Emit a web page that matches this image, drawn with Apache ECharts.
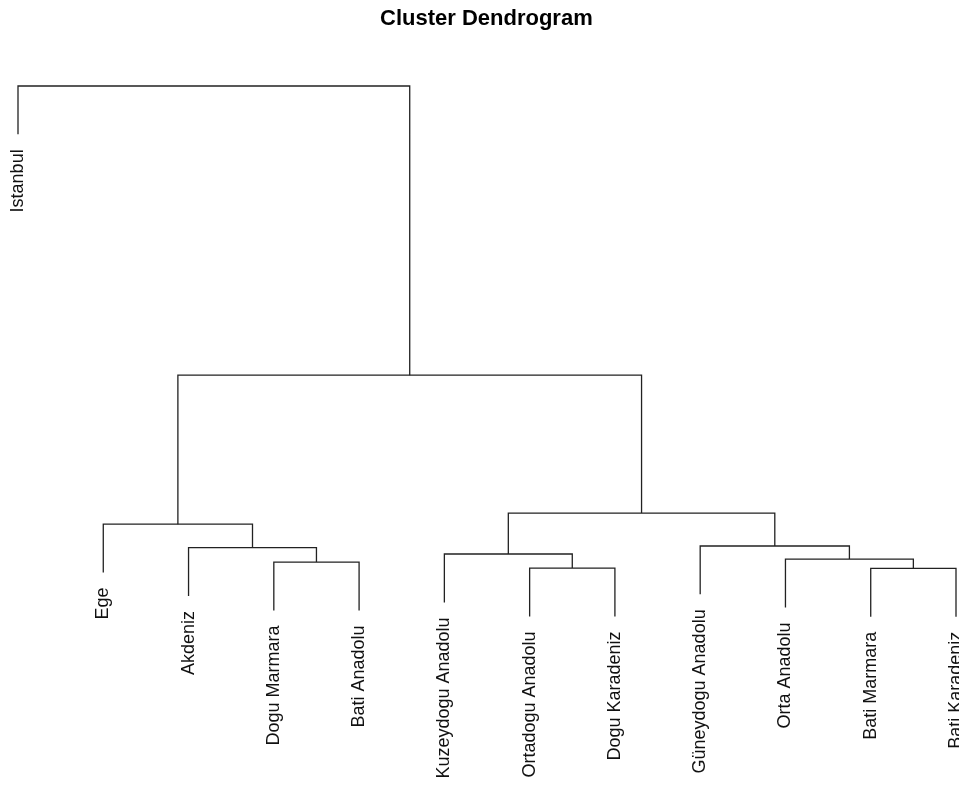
<!DOCTYPE html>
<html>
<head>
<meta charset="utf-8">
<title>Cluster Dendrogram</title>
<script src="https://cdn.jsdelivr.net/npm/echarts@6/dist/echarts.min.js"></script>
<style>
  html, body { margin: 0; padding: 0; background: #fff; }
  #chart { width: 959px; height: 787px; }
</style>
</head>
<body>
<div id="chart"></div>
<script>
// leaf labels, in plotting order (left to right)
const leafNames = ['Istanbul', 'Ege', 'Akdeniz', 'Dogu Marmara', 'Bati Anadolu',
  'Kuzeydogu Anadolu', 'Ortadogu Anadolu', 'Dogu Karadeniz',
  'Güneydogu Anadolu', 'Orta Anadolu', 'Bati Marmara', 'Bati Karadeniz']

// merge steps like R's hclust: negative = leaf (position in leafNames, 1-based), positive = earlier merge
const mergeLeft = [-11, -7, -4, -10, -6, -3, -9, -2, 5, 8, -1]
const mergeRight = [-12, -8, -5, 1, 2, 3, 4, 6, 7, 9, 10]
const mergeHeight = [0.27, 0.33, 1.57, 2.19, 3.23, 4.55, 4.89, 9.4, 11.7, 40.2, 100]

// leaves hang 10% of the tallest merge below their parent
const hang = 0.1 * Math.max(...mergeHeight)

const nodeX = []
const segments = []
const leafEnds = []

function childInfo (idx) {
  if (idx < 0) return { x: -idx, leaf: true }
  return { x: nodeX[idx - 1], y: mergeHeight[idx - 1], leaf: false }
}

for (let i = 0; i < mergeHeight.length; i++) {
  const h = mergeHeight[i]
  const l = childInfo(mergeLeft[i])
  const r = childInfo(mergeRight[i])
  const yl = l.leaf ? h - hang : l.y
  const yr = r.leaf ? h - hang : r.y
  if (l.leaf) leafEnds.push([l.x, yl, leafNames[l.x - 1]])
  if (r.leaf) leafEnds.push([r.x, yr, leafNames[r.x - 1]])
  nodeX.push((l.x + r.x) / 2)
  segments.push([l.x, yl, r.x, yr, h])
}

const chart = echarts.init(document.getElementById('chart'))
const option = {
  backgroundColor: '#ffffff',
  animation: false,
  title: {
    text: 'Cluster Dendrogram',
    left: 375,
    top: 3,
    textStyle: {
      fontFamily: 'Liberation Sans, Arial, sans-serif',
      fontWeight: 'bold',
      fontSize: 22,
      color: '#000'
    }
  },
  grid: { left: 18, right: 3, top: 86, bottom: 169 },
  xAxis: { type: 'value', min: 1, max: 12, show: false },
  yAxis: { type: 'value', min: -10, max: 100, show: false },
  series: [
    {
      type: 'custom',
      data: segments,
      renderItem: function (params, api) {
        const p1 = api.coord([api.value(0), api.value(1)])
        const p2 = api.coord([api.value(0), api.value(4)])
        const p3 = api.coord([api.value(2), api.value(4)])
        const p4 = api.coord([api.value(2), api.value(3)])
        return {
          type: 'polyline',
          shape: { points: [p1, p2, p3, p4] },
          style: { stroke: '#222', lineWidth: 1.3, fill: null }
        }
      }
    },
    {
      type: 'custom',
      data: leafEnds,
      renderItem: function (params, api) {
        const p = api.coord([api.value(0), api.value(1)])
        return {
          type: 'text',
          x: p[0],
          y: p[1] + 15,
          rotation: Math.PI / 2,
          style: {
            text: leafEnds[params.dataIndex][2],
            fill: '#111',
            font: '18px "Liberation Sans", Arial, sans-serif',
            align: 'right',
            verticalAlign: 'middle'
          }
        }
      }
    }
  ]
}
chart.setOption(option)
</script>
</body>
</html>
